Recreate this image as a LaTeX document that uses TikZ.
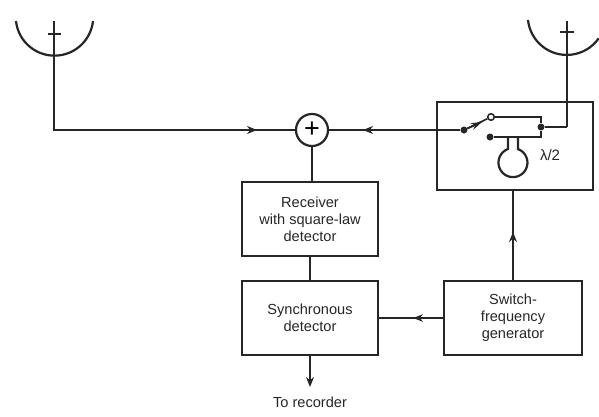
\documentclass[tikz,border=0pt]{standalone}
\usepackage{fontspec}
\setmainfont{Liberation Sans}
\usetikzlibrary{arrows.meta}
\tikzset{
	wire/.style={line width=2.2pt,black!85},
	thinwire/.style={line width=1.7pt,black!85},
	tipwire/.style={wire,-{Stealth[length=10pt,width=8pt]}},
	blockbox/.style={draw=black!85,line width=1.8pt,rectangle,align=center,inner sep=0pt,
		font=\fontsize{14.6}{17}\selectfont,text=black!85},
	sumnode/.style={draw=black!85,line width=2.2pt,circle,minimum size=32pt,inner sep=0pt,
		font=\fontsize{27}{27}\selectfont},
	closeddot/.style={circle,fill=black!85,minimum size=7pt,inner sep=0pt},
	opendot/.style={circle,draw=black!85,fill=white,line width=1.6pt,minimum size=6.5pt,inner sep=0pt}
}
\begin{document}
\begin{tikzpicture}[x=1pt,y=-1pt]
	\useasboundingbox (0,0) rectangle (599,416);
	% blocks
	\node[sumnode] (sum) at (312,130) {+};
	\node[blockbox,minimum width=136pt,minimum height=74pt] (receiver) at (310,219) {Receiver\\with square-law\\detector};
	\node[blockbox,minimum width=136pt,minimum height=74pt] (sync) at (310,318) {Synchronous\\detector};
	\node[blockbox,minimum width=138pt,minimum height=74pt] (generator) at (513,318) {Switch-\\frequency\\generator};
	\node[blockbox,minimum width=156pt,minimum height=88pt] (switchbox) at (515,146) {};
	\node[font=\fontsize{14.6}{17}\selectfont,text=black!85] (recorder) at (310,402) {To recorder};
	\node[font=\fontsize{15}{17}\selectfont,text=black!85] (halfwave) at (550,155) {λ/2};
	% left antenna
	\coordinate (mastL) at (54,21);
	\coordinate (cornerL) at (54,130);
	\draw[wire] (16,21) arc (-186:-354:38.7);
	\draw[wire] (48,34) -- (61,34);
	\draw[wire,line join=miter] (mastL) -- (cornerL) -- (sum.west);
	\coordinate (tipL) at (257,130);
	\draw[tipwire] (cornerL) -- (tipL);
	% right antenna
	\coordinate (mastR) at (567,21);
	\coordinate (cornerR) at (567,127);
	\draw[wire] (528,20) arc (-186:-325:39);
	\draw[wire] (560,32) -- (574,32);
	\draw[wire] (mastR) -- (cornerR);
	% switch
	\node[closeddot] (pivot) at (464,130) {};
	\node[opendot] (contact) at (491,117) {};
	\node[closeddot] (stub) at (490,137) {};
	\node[closeddot] (junction) at (541,127) {};
	\coordinate (tipS) at (363,130);
	\coordinate (armtip) at (482,122);
	\coordinate (cornerA) at (541,117);
	\coordinate (cornerB) at (541,137);
	\draw[wire] (pivot) -- (sum.east);
	\draw[tipwire] (pivot) -- (tipS);
	\draw[thinwire] (pivot) -- (contact);
	\draw[thinwire,-{Stealth[length=11pt,width=7pt]}] (pivot) -- (armtip);
	\draw[wire] (contact) -- (cornerA) -- (junction) -- (cornerB) -- (stub);
	\draw[wire] (junction) -- (cornerR);
	% half wave loop
	\draw[wire] (508,137) -- (508,149) arc (-110:-430:14.5) -- (518,137);
	% connections
	\draw[wire] (sum.south) -- (312,182);
	\draw[wire] (receiver.south) -- (sync.north);
	\coordinate (tipR) at (513,232);
	\draw[wire] (generator.north) -- (513,190);
	\draw[tipwire] (generator.north) -- (tipR);
	\coordinate (tipG) at (413,318);
	\draw[thinwire] (generator.west) -- (sync.east);
	\draw[thinwire,-{Stealth[length=10pt,width=7.5pt]}] (generator.west) -- (tipG);
	\draw[tipwire] (sync.south) -- (310,387);
\end{tikzpicture}
\end{document}
